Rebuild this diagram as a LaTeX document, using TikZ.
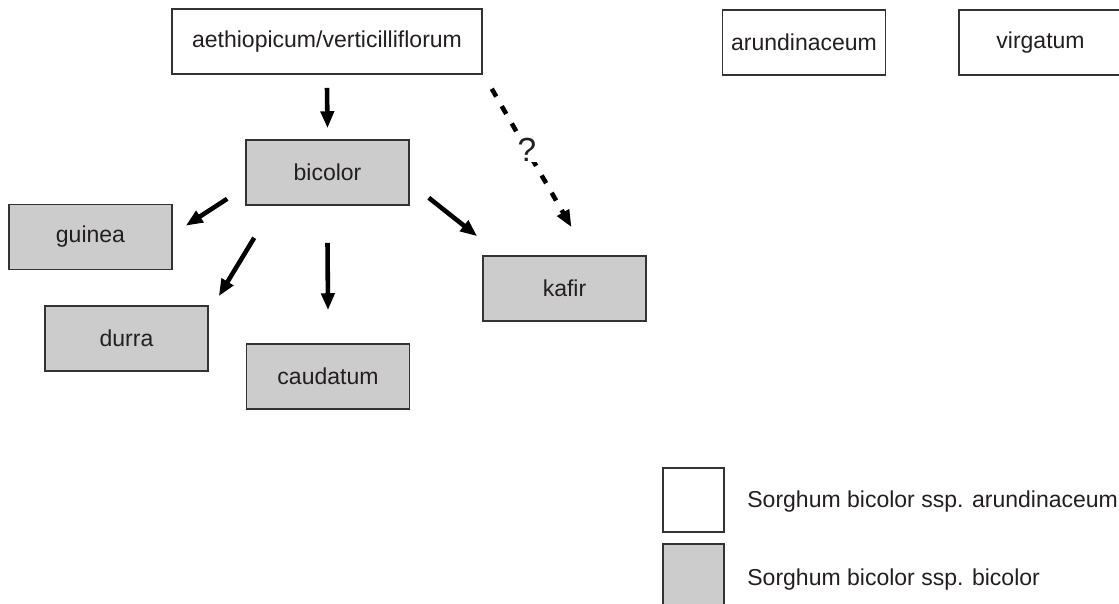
\documentclass[tikz,border=0pt]{standalone}
\usepackage{fontspec}
\setmainfont{Liberation Sans}
\usetikzlibrary{arrows.meta,calc}
\definecolor{gris}{HTML}{CCCCCC}
\definecolor{borde}{HTML}{333333}
\definecolor{texto}{HTML}{231F20}

\begin{document}
\begin{tikzpicture}[x=0.02cm, y=-0.02cm,
    >={Triangle[length=0.34cm, width=0.26cm]},
    caja/.style={draw=borde, line width=0.9pt, text=texto, inner sep=0pt,
      minimum width=3.26cm, minimum height=1.3cm,
      font=\fontsize{13.1}{15}\selectfont},
    cultivo/.style={caja, fill=gris},
    flecha/.style={->, line width=2.6pt}]
  \useasboundingbox (0,0) rectangle (1119,603);

  % Razas silvestres
  \node[caja, minimum width=6.2cm] (aeth) at (327,41.5)
        {aethiopicum/verticilliflorum};
  \node[caja] (arun) at (804,42.5) {arundinaceum};
  \node[caja] (virg) at (1040.5,42.5) {virgatum};

  % Razas cultivadas
  \node[cultivo] (bic) at (327.5,172.5) {bicolor};
  \node[cultivo] (gui) at (90.5,237) {guinea};
  \node[cultivo] (dur) at (126.5,338.5) {durra};
  \node[cultivo] (cau) at (328,376.5) {caudatum};
  \node[cultivo] (kaf) at (564.5,288.5) {kafir};

  % Flechas
  \draw[flecha] ($(aeth.south)+(0,13)$) -- ($(bic.north)+(0,-11)$);
  \draw[flecha] ($(bic.south west)+(-18,-7)$) -- ($(gui.north east)+(13,22)$);
  \draw[flecha] ($(bic.south west)+(9,32)$) -- ($(dur.north east)+(10,-9)$);
  \draw[flecha] ($(bic.south)+(0,37)$) -- ($(cau.north)+(0,-33)$);
  \draw[flecha] ($(bic.south east)+(19,-8)$) -- ($(kaf.north west)+(-5,-19)$);
  % Origen dudoso de kafir
  \draw[flecha, dash pattern=on 0.18cm off 0.22cm]
    ($(aeth.south east)+(9,14)$) --
    node[pos=0.44, fill=white, inner sep=0.5pt, text=texto,
         font=\fontsize{19}{22}\selectfont] (duda) {?}
    ($(kaf.north)+(7,-28)$);

  % Leyenda
  \node[caja, minimum width=1.22cm, minimum height=1.28cm] (leg1)
        at (693.5,500) {};
  \node[cultivo, minimum width=1.22cm, minimum height=1.28cm] (leg2)
        at (693.5,576) {};
  \node[anchor=west, inner sep=0pt, text=texto,
        font=\fontsize{13.1}{15}\selectfont] (txt1) at (747,502)
        {Sorghum bicolor ssp. arundinaceum};
  \node[anchor=west, inner sep=0pt, text=texto,
        font=\fontsize{13.1}{15}\selectfont] (txt2) at (747,580)
        {Sorghum bicolor ssp. bicolor};
\end{tikzpicture}
\end{document}
